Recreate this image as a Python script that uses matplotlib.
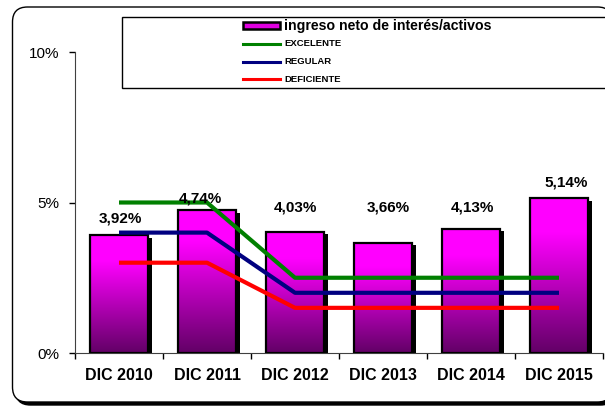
import matplotlib
matplotlib.use('Agg')
import matplotlib.pyplot as plt
import numpy as np
from matplotlib.colors import LinearSegmentedColormap
from matplotlib.patches import FancyBboxPatch, Rectangle
from matplotlib.lines import Line2D
from matplotlib.transforms import IdentityTransform, ScaledTranslation

plt.rcParams['font.family'] = ['Liberation Sans', 'DejaVu Sans']

# ---- data ----
categories = ['DIC 2010', 'DIC 2011', 'DIC 2012', 'DIC 2013', 'DIC 2014', 'DIC 2015']
ingreso = [3.92, 4.74, 4.03, 3.66, 4.13, 5.14]
excelente = [5.0, 5.0, 2.5, 2.5, 2.5, 2.5]
regular = [4.0, 4.0, 2.0, 2.0, 2.0, 2.0]
deficiente = [3.0, 3.0, 1.5, 1.5, 1.5, 1.5]
yticks = [0, 5, 10]
ytick_labels = ['0%', '5%', '10%']

# label placement (x shift in category units, y in % units)
label_dx = [0.02, -0.08, 0.0, 0.06, 0.02, 0.08]
label_y = [4.47, 5.13, 4.83, 4.82, 4.84, 5.65]

W, H = 605, 411
fig = plt.figure(figsize=(W / 100, H / 100), dpi=100)

# ---- outer rounded border with shadow ----
px = IdentityTransform()
fig.patches.append(FancyBboxPatch((15.5, H - 405), 600, 395,
                                  boxstyle='round,pad=0,rounding_size=15',
                                  facecolor='black', edgecolor='black', lw=1,
                                  transform=px, figure=fig, zorder=-3))
fig.patches.append(FancyBboxPatch((12.5, H - 402), 600, 395,
                                  boxstyle='round,pad=0,rounding_size=15',
                                  facecolor='white', edgecolor='black', lw=1,
                                  transform=px, figure=fig, zorder=-2))

# ---- axes ----
ax = fig.add_axes([75 / W, (H - 353) / H, 528 / W, 301 / H])
ax.patch.set_alpha(0)
x = np.arange(len(categories))
width = 0.67

# shadow bars
shadow_tr = ax.transData + ScaledTranslation(4 / 100, -2.5 / 100, fig.dpi_scale_trans)
ax.bar(x, ingreso, width, color='black', zorder=1, transform=shadow_tr)

bars = ax.bar(x, ingreso, width, facecolor='none', edgecolor='black', lw=1.6, zorder=3)

cmap = LinearSegmentedColormap.from_list('purp', [(0, '#620066'), (0.78, '#ff00ff'), (1, '#ff00ff')])
grad = np.linspace(0, 1, 256).reshape(-1, 1)
for b in bars:
    im = ax.imshow(grad, extent=(b.get_x(), b.get_x() + b.get_width(), 0, b.get_height()),
                   origin='lower', aspect='auto', cmap=cmap, zorder=2)
    im.set_clip_path(b)

ax.plot(x, excelente, color='#008000', lw=3, solid_capstyle='butt', zorder=4)
ax.plot(x, regular, color='#000080', lw=3, solid_capstyle='butt', zorder=4)
ax.plot(x, deficiente, color='#ff0000', lw=3, solid_capstyle='butt', zorder=4)

for i, v in enumerate(ingreso):
    ax.text(x[i] + label_dx[i], label_y[i], f'{v:.2f}%'.replace('.', ','),
            ha='center', va='center', fontsize=11, fontweight='bold', zorder=5)

ax.set_xlim(-0.5, len(categories) - 0.5)
ax.set_ylim(0, 10)
ax.set_yticks(yticks)
ax.set_yticklabels(ytick_labels, fontsize=11)
ax.tick_params(axis='y', length=4, width=1, pad=7)
ax.set_xticks(x)
ax.set_xticklabels(categories, fontsize=11.5, fontweight='bold')
ax.tick_params(axis='x', which='major', length=0, pad=11)
ax.set_xticks(np.arange(-0.5, len(categories)), minor=True)
ax.tick_params(axis='x', which='minor', length=4, width=1)
for s in ['top', 'right']:
    ax.spines[s].set_visible(False)
ax.spines['left'].set_color('#404040')
ax.spines['bottom'].set_color('#404040')

# ---- legend box ----
def fy(y):
    return 1 - y / H

fig.patches.append(Rectangle((122 / W, fy(88)), 500 / W, 71 / H, transform=fig.transFigure,
                             facecolor='white', edgecolor='black', lw=1, figure=fig, zorder=1))
fig.patches.append(Rectangle((243 / W, fy(29)), 37 / W, 7 / H, transform=fig.transFigure,
                             facecolor='#e000e0', edgecolor='black', lw=1.8, figure=fig, zorder=2))
fig.text(284 / W, fy(26), 'ingreso neto de interés/activos', fontsize=10.2,
         fontweight='bold', va='center', ha='left')
for yy, col, lab in [(44, '#008000', 'EXCELENTE'), (62, '#000080', 'REGULAR'),
                     (79, '#ff0000', 'DEFICIENTE')]:
    fig.lines.append(Line2D([243 / W, 280 / W], [fy(yy), fy(yy)], transform=fig.transFigure,
                            color=col, lw=2.2, figure=fig, zorder=2))
    fig.text(284 / W, fy(yy), lab, fontsize=6.8, fontweight='bold', va='center', ha='left')

fig.savefig('out.png', dpi=100)
